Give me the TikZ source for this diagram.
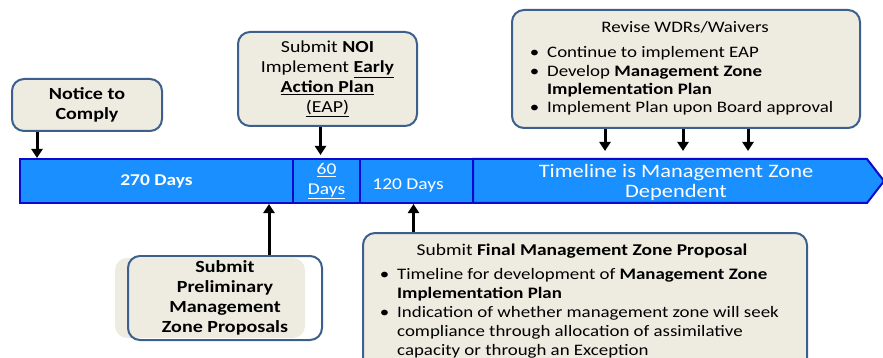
\documentclass[tikz,border=0pt]{standalone}
\usepackage{fontspec}
\setmainfont{Carlito}[FakeStretch=1.18]
\usetikzlibrary{arrows.meta,calc}
\definecolor{boxfill}{HTML}{EEECE1}
\definecolor{boxline}{HTML}{3C5F8C}
\definecolor{barfill}{HTML}{1A8FFF}
\definecolor{barline}{HTML}{0A0ACD}
\begin{document}
\begin{tikzpicture}[x=1pt,y=-1pt, font=\fontsize{16}{19.5}\selectfont,
  box/.style={draw=boxline, fill=boxfill, line width=2pt, rounded corners=12pt, inner sep=0pt},
  seg/.style={draw=barline, fill=barfill, line width=2pt, inner sep=0pt, text=white},
  arr/.style={line width=3pt, -{Triangle[width=11pt,length=9pt]}},
  txt/.style={inner sep=0pt, align=center},
  bline/.style={inner sep=0pt, anchor=base west},
]
\useasboundingbox (0,0) rectangle (883,358);
\clip (0,0) rectangle (883,358);

% timeline bar
\node[seg, minimum width=273pt, minimum height=44pt, font=\fontsize{16.5}{19.5}\selectfont\bfseries] (seg1) at (156.5,181) {270 Days};
\node[seg, minimum width=67pt, minimum height=44pt, align=center, font=\fontsize{16.5}{20}\selectfont] (seg2) at (326.5,181) {\underline{60}\\\underline{Days}};
\node[seg, minimum width=113pt, minimum height=44pt] (seg3) at (416.5,181) {};
\node[txt, text=white, font=\fontsize{16.5}{20}\selectfont] (t120) at (408,185) {120 Days};
\draw[draw=barline, fill=barfill, line width=2pt] (473,159) -- (867,159) -- (884,181) -- (867,203) -- (473,203) -- cycle;
\node[txt, text=white, font=\fontsize{19}{20}\selectfont] (tzone) at (676,182.5) {Timeline is Management Zone\\Dependent};

% Notice to comply
\node[box, minimum width=150pt, minimum height=52pt, align=center, font=\fontsize{17}{20}\selectfont\bfseries] (notice) at (87,105) {Notice to\\Comply};

% NOI
\node[box, minimum width=179pt, minimum height=94pt, align=center, font=\fontsize{16.8}{20}\selectfont] (noi) at (327.5,79) {Submit \textbf{NOI}\\Implement \underline{\textbf{Early}}\\\underline{\textbf{Action Plan}}\\\underline{(EAP)}};

% Revise box
\node[box, minimum width=348pt, minimum height=118pt] (rev) at (686,69) {};
\node[inner sep=0pt, anchor=base] (revt) at (685,33) {Revise WDRs/Waivers};
\node[bline] (r1) at (547,58) {\llap{\textbullet\hspace{8pt}}Continue to implement EAP};
\node[bline] (r2) at (547,76.5) {\llap{\textbullet\hspace{8pt}}Develop \textbf{Management Zone}};
\node[bline] (r3) at (547,95) {\textbf{Implementation Plan}};
\node[bline] (r4) at (547,113) {\llap{\textbullet\hspace{8pt}}Implement Plan upon Board approval};

% Preliminary
\fill[boxfill, rounded corners=12pt] (115,258) rectangle (305,338);
\node[box, fill=none, minimum width=194pt, minimum height=84pt, align=center, font=\fontsize{17}{20}\selectfont\bfseries] (prelim) at (225,298) {Submit\\Preliminary\\Management\\Zone Proposals};

% Final
\node[box, minimum width=444pt, minimum height=140pt] (final) at (585,303) {};
\node[inner sep=0pt, anchor=base, font=\fontsize{16.5}{19.5}\selectfont] (ft) at (582,255) {Submit \textbf{Final Management Zone Proposal}};
\node[bline] (f1) at (397,279) {\llap{\textbullet\hspace{8pt}}Timeline for development of \textbf{Management Zone}};
\node[bline] (f2) at (397,298) {\textbf{Implementation Plan}};
\node[bline] (f3) at (397,317) {\llap{\textbullet\hspace{8pt}}Indication of whether management zone will seek};
\node[bline] (f4) at (397,336) {compliance through allocation of assimilative};
\node[bline] (f5) at (397,355) {capacity or through an Exception};

% arrows
\coordinate (na) at ([xshift=26pt]notice.south west);
\coordinate (nb) at ([xshift=18pt]seg1.north west);
\draw[arr] (na) -- (nb);
\coordinate (oa) at ([xshift=-7pt]noi.south);
\draw[arr, shorten >=3pt] (oa) -- (oa |- seg2.north);
\coordinate (pa) at ([xshift=-25pt]seg1.south east);
\draw[arr] (pa |- prelim.north) -- (pa);
\coordinate (fa) at ([xshift=-3pt]seg3.south);
\draw[arr] (fa |- final.north) -- (fa);
\coordinate (ra) at (605,151);
\coordinate (rb) at (683,151);
\coordinate (rc) at (748,151);
\draw[arr] (rev.south -| ra) -- (ra);
\draw[arr] (rev.south -| rb) -- (rb);
\draw[arr] (rev.south -| rc) -- (rc);
\end{tikzpicture}
\end{document}
